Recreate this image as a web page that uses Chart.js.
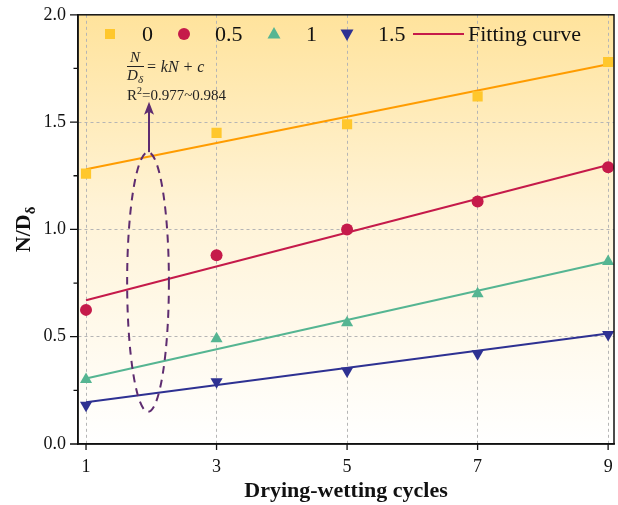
<!DOCTYPE html>
<html><head><meta charset="utf-8">
<script src="https://cdn.jsdelivr.net/npm/chart.js@4.4.1/dist/chart.umd.min.js"></script>
<style>html,body{margin:0;padding:0;background:#fff}#wrap{width:618px;height:505px}</style>
</head><body><div id="wrap"><canvas id="c" width="618" height="505"></canvas></div>
<script>
// ---- data ----
const cycles = [1, 3, 5, 7, 9];
const seriesNames = ['0', '0.5', '1', '1.5'];
const s0 = [1.26, 1.45, 1.49, 1.62, 1.78];
const s05 = [0.625, 0.88, 1.00, 1.13, 1.29];
const s1 = [0.30, 0.49, 0.565, 0.70, 0.85];
const s15 = [0.18, 0.29, 0.34, 0.42, 0.51];
const fitX = [1, 9];
const fit0 = [1.28, 1.77];
const fit05 = [0.67, 1.30];
const fit1 = [0.305, 0.85];
const fit15 = [0.195, 0.515];
const xTicks = [1, 3, 5, 7, 9];
const yTicks = [0, 0.5, 1.0, 1.5, 2.0];
const yMinorTicks = [0.25, 0.75, 1.25, 1.75];

const C_SQ = '#FFC72C', C_ORL = '#FF9C00', C_RED = '#C51A4A', C_GRN = '#55B592', C_NAVY = '#2E3192', C_PUR = '#5E2C70';
const SERIF = '"Liberation Serif", "Times New Roman", serif';

const pts = arr => cycles.map((x, i) => ({x, y: arr[i]}));
const fpts = arr => fitX.map((x, i) => ({x, y: arr[i]}));

const bgPlugin = {
  id: 'bg',
  beforeDraw(chart) {
    const {ctx, chartArea: a} = chart;
    const g = ctx.createLinearGradient(0, a.top, 0, a.bottom);
    g.addColorStop(0, '#FFE39C');
    g.addColorStop(0.45, '#FFF3D6');
    g.addColorStop(1, '#FFFFFF');
    ctx.save();
    ctx.fillStyle = g;
    ctx.fillRect(a.left, a.top, a.right - a.left, a.bottom - a.top);
    ctx.restore();
  }
};

function marker(ctx, style, x, y, color) {
  ctx.fillStyle = color;
  ctx.beginPath();
  if (style === 'rect') { ctx.rect(x - 5, y - 5, 10, 10); }
  else if (style === 'circle') { ctx.arc(x, y, 6, 0, Math.PI * 2); }
  else if (style === 'tri') { ctx.moveTo(x, y - 7); ctx.lineTo(x + 6.5, y + 4.5); ctx.lineTo(x - 6.5, y + 4.5); ctx.closePath(); }
  else if (style === 'dtri') { ctx.moveTo(x, y + 7); ctx.lineTo(x + 6.5, y - 4.5); ctx.lineTo(x - 6.5, y - 4.5); ctx.closePath(); }
  ctx.fill();
}

const decoPlugin = {
  id: 'deco',
  afterDraw(chart) {
    const {ctx, chartArea: a, scales: {x: xs, y: ys}} = chart;
    ctx.save();
    // frame
    ctx.strokeStyle = '#111';
    ctx.lineWidth = 1.5;
    ctx.strokeRect(a.left, a.top, a.right - a.left, a.bottom - a.top);
    // ticks
    ctx.lineWidth = 1.3;
    ctx.beginPath();
    yTicks.forEach(v => { const p = ys.getPixelForValue(v); ctx.moveTo(a.left - 8, p); ctx.lineTo(a.left, p); });
    yMinorTicks.forEach(v => { const p = ys.getPixelForValue(v); ctx.moveTo(a.left - 4.5, p); ctx.lineTo(a.left, p); });
    xTicks.forEach(v => { const p = xs.getPixelForValue(v); ctx.moveTo(p, a.bottom); ctx.lineTo(p, a.bottom + 6); });
    ctx.stroke();

    // axis titles
    ctx.fillStyle = '#111';
    ctx.font = 'bold 22px ' + SERIF;
    ctx.textAlign = 'center';
    ctx.textBaseline = 'middle';
    ctx.fillText('Drying-wetting cycles', (a.left + a.right) / 2, 491);

    ctx.save();
    ctx.font = 'bold 22px ' + SERIF;
    const w1 = ctx.measureText('N/D').width;
    ctx.font = 'bold 15px ' + SERIF;
    const w2 = ctx.measureText('δ').width;
    const tot = w1 + w2;
    ctx.translate(22, (a.top + a.bottom) / 2 + tot / 2);
    ctx.rotate(-Math.PI / 2);
    ctx.textAlign = 'left';
    ctx.textBaseline = 'alphabetic';
    ctx.font = 'bold 22px ' + SERIF;
    ctx.fillText('N/D', 0, 8);
    ctx.font = 'bold 15px ' + SERIF;
    ctx.fillText('δ', w1, 13);
    ctx.restore();

    // ellipse annotation
    const cx = xs.getPixelForValue(1.95);
    const yt = ys.getPixelForValue(1.36), yb = ys.getPixelForValue(0.15);
    const rx = xs.getPixelForValue(1.95 + 0.32) - cx;
    ctx.strokeStyle = C_PUR;
    ctx.lineWidth = 2;
    ctx.setLineDash([8, 6]);
    ctx.beginPath();
    ctx.ellipse(cx, (yt + yb) / 2, rx, (yb - yt) / 2, 0, 0, Math.PI * 2);
    ctx.stroke();
    ctx.setLineDash([]);
    // arrow
    const tipY = ys.getPixelForValue(1.595);
    ctx.beginPath();
    ctx.moveTo(cx + 1, yt);
    ctx.lineTo(cx + 1, tipY + 10);
    ctx.stroke();
    ctx.fillStyle = C_PUR;
    ctx.beginPath();
    ctx.moveTo(cx + 1, tipY);
    ctx.lineTo(cx + 6, tipY + 13);
    ctx.lineTo(cx + 1, tipY + 10);
    ctx.lineTo(cx - 4, tipY + 13);
    ctx.closePath();
    ctx.fill();

    // formula text
    ctx.fillStyle = '#222';
    ctx.textBaseline = 'alphabetic';
    ctx.textAlign = 'center';
    ctx.font = 'italic 15px ' + SERIF;
    ctx.fillText('N', 135, 62);
    ctx.strokeStyle = '#222';
    ctx.lineWidth = 1;
    ctx.beginPath(); ctx.moveTo(127, 66.5); ctx.lineTo(144, 66.5); ctx.stroke();
    ctx.textAlign = 'left';
    ctx.fillText('D', 127, 80);
    ctx.font = 'italic 11px ' + SERIF;
    ctx.fillText('δ', 138, 83);
    ctx.font = 'italic 16px ' + SERIF;
    ctx.fillText('= kN + c', 146, 72);
    ctx.font = '15px ' + SERIF;
    ctx.fillText('R', 127, 100);
    const rw = ctx.measureText('R').width;
    ctx.font = '10px ' + SERIF;
    ctx.fillText('2', 127 + rw, 94);
    const sw = ctx.measureText('2').width;
    ctx.font = '15px ' + SERIF;
    ctx.fillText('=0.977~0.984', 127 + rw + sw, 100);

    // legend
    const ly = 34;
    ctx.font = '22px ' + SERIF;
    ctx.textBaseline = 'middle';
    ctx.fillStyle = '#111';
    marker(ctx, 'rect', 110, ly, C_SQ);
    ctx.fillStyle = '#111'; ctx.fillText(seriesNames[0], 142, ly + 1);
    marker(ctx, 'circle', 184, ly, C_RED);
    ctx.fillStyle = '#111'; ctx.fillText(seriesNames[1], 215, ly + 1);
    marker(ctx, 'tri', 274, ly, C_GRN);
    ctx.fillStyle = '#111'; ctx.fillText(seriesNames[2], 306, ly + 1);
    marker(ctx, 'dtri', 347, ly, C_NAVY);
    ctx.fillStyle = '#111'; ctx.fillText(seriesNames[3], 378, ly + 1);
    ctx.strokeStyle = C_RED; ctx.lineWidth = 2;
    ctx.beginPath(); ctx.moveTo(413, ly); ctx.lineTo(464, ly); ctx.stroke();
    ctx.fillStyle = '#111'; ctx.fillText('Fitting curve', 468, ly + 1);
    ctx.restore();
  }
};

const scatterDs = (label, arr, color, style, rot, r) => ({
  label, data: pts(arr), showLine: false, backgroundColor: color, borderColor: color,
  pointStyle: style, pointRotation: rot, pointRadius: r, pointHoverRadius: r, borderWidth: 0
});
const lineDs = (arr, color) => ({
  label: 'Fitting curve', data: fpts(arr), showLine: true, borderColor: color, borderWidth: 2,
  pointRadius: 0, fill: false, tension: 0
});

new Chart(document.getElementById('c'), {
  type: 'scatter',
  data: {
    datasets: [
      scatterDs(seriesNames[0], s0, C_SQ, 'rect', 0, 7.2),
      scatterDs(seriesNames[1], s05, C_RED, 'circle', 0, 6),
      scatterDs(seriesNames[2], s1, C_GRN, 'triangle', 0, 7),
      scatterDs(seriesNames[3], s15, C_NAVY, 'triangle', 180, 7),
      lineDs(fit0, C_ORL),
      lineDs(fit05, C_RED),
      lineDs(fit1, C_GRN),
      lineDs(fit15, C_NAVY)
    ]
  },
  options: {
    responsive: false,
    animation: false,
    devicePixelRatio: 1,
    layout: {autoPadding: false, padding: {top: 12, right: 4, left: 0, bottom: 0}},
    plugins: {legend: {display: false}, tooltip: {enabled: false}},
    scales: {
      x: {
        type: 'linear', min: 0.877, max: 9.09,
        afterBuildTicks: s => { s.ticks = xTicks.map(v => ({value: v})); },
        afterFit: s => { s.height = 61; s.paddingRight = 0; s.paddingLeft = 0; },
        ticks: {autoSkip: false, maxRotation: 0, color: '#111', font: {family: SERIF, size: 18}, padding: 4,
          callback: v => String(v)},
        grid: {color: '#b5b5b5', lineWidth: 1, tickLength: 8, tickColor: 'rgba(0,0,0,0)', drawOnChartArea: true},
        border: {display: true, color: '#111', width: 1.5, dash: [3, 3]}
      },
      y: {
        min: 0, max: 2,
        afterBuildTicks: s => { s.ticks = yTicks.concat(yMinorTicks).sort((a, b) => a - b).map(v => ({value: v})); },
        afterFit: s => { s.width = 78; },
        ticks: {autoSkip: false, color: '#111', font: {family: SERIF, size: 18}, padding: 4,
          callback: v => (yTicks.includes(v) ? v.toFixed(1) : '')},
        grid: {
          color: c => { const v = c.tick ? c.tick.value : null; return (v === 0.5 || v === 1 || v === 1.5) ? '#b5b5b5' : 'rgba(0,0,0,0)'; },
          lineWidth: 1, tickLength: 8, tickColor: 'rgba(0,0,0,0)'
        },
        border: {display: true, color: '#111', width: 1.5, dash: [3, 3]}
      }
    }
  },
  plugins: [bgPlugin, decoPlugin]
});
</script>
</body></html>
